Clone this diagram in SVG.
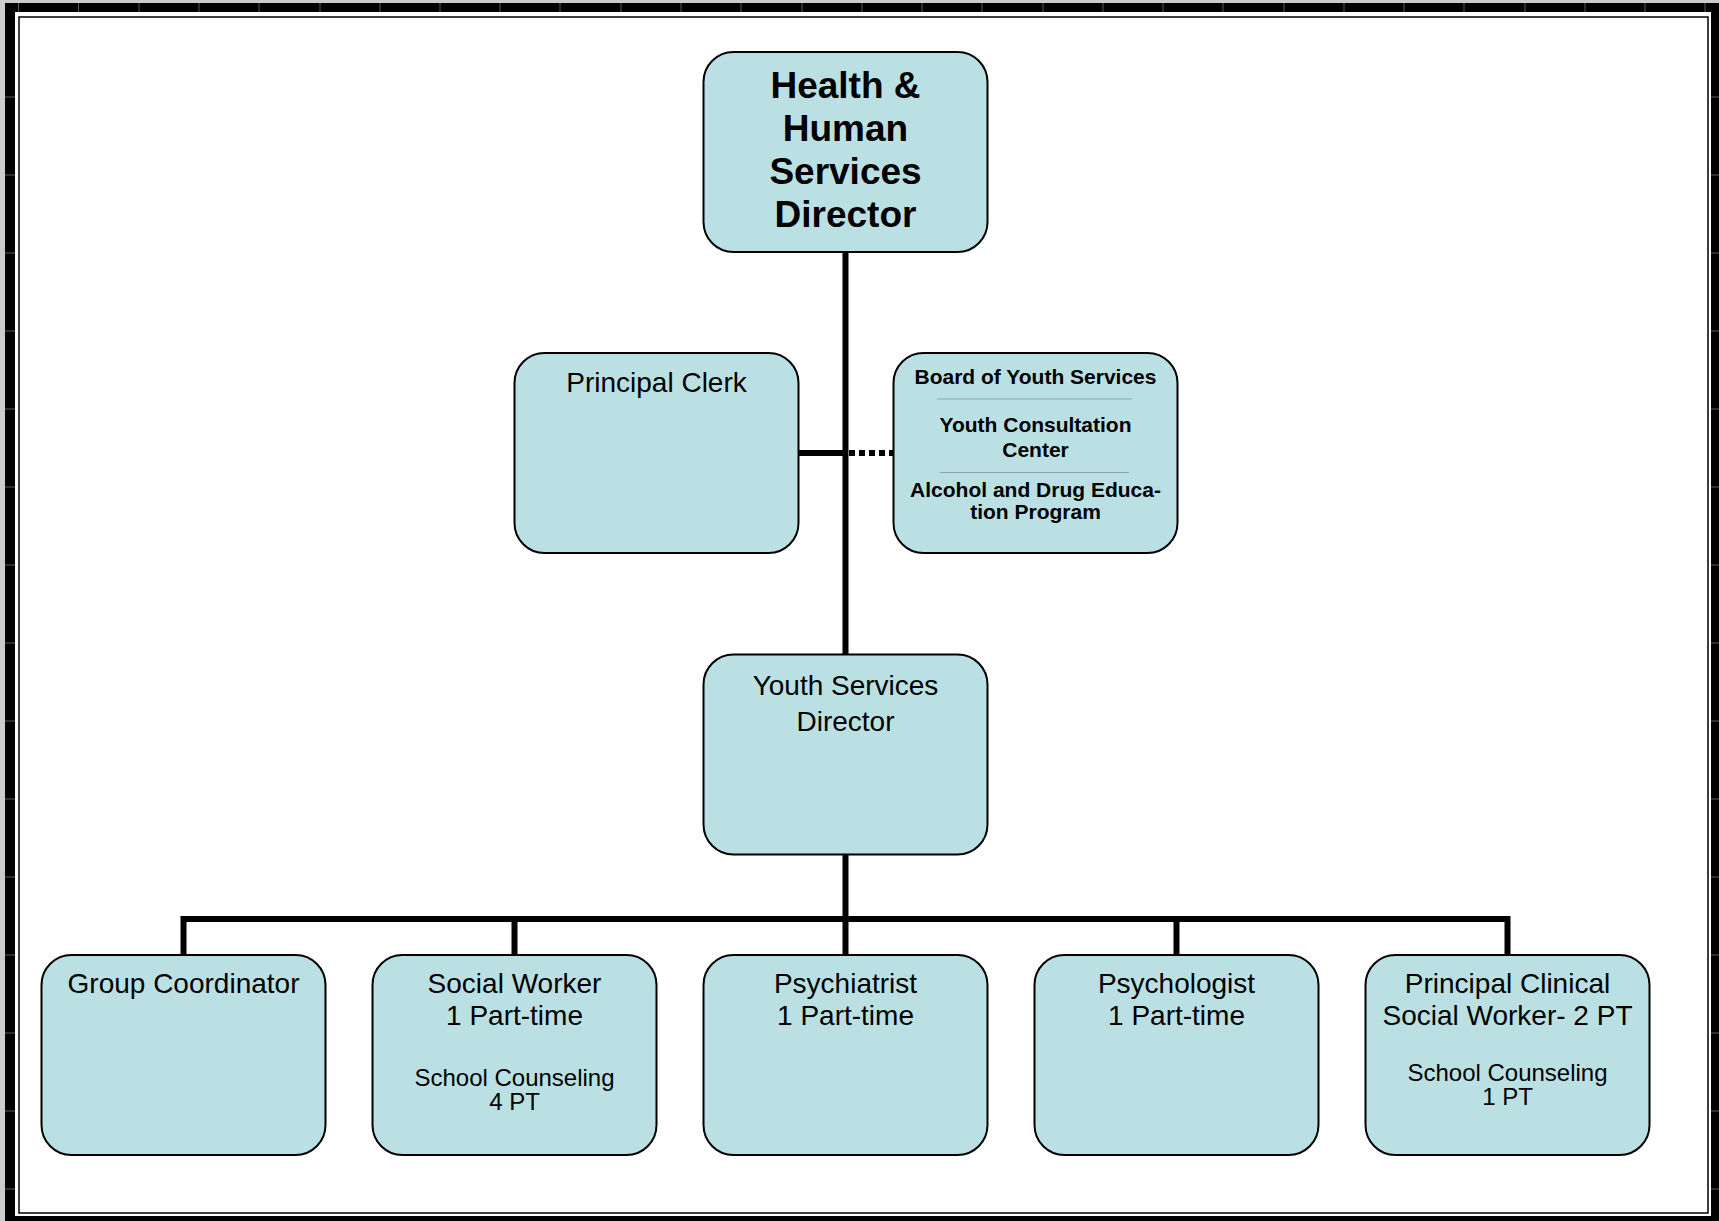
<svg xmlns="http://www.w3.org/2000/svg" width="1719" height="1221" viewBox="0 0 1719 1221">
<style>
.box{fill:#bbe0e3;stroke:#000;stroke-width:2}
.t{font-family:"Liberation Sans",Arial,sans-serif;fill:#000;text-anchor:middle}
.r{font-size:28px}
.s{font-size:24px}
.b{font-weight:bold}
.top{font-size:37px;font-weight:bold}
.bd{font-size:21px;font-weight:bold}
.ln{stroke:#000;stroke-width:6;fill:none}
.dot{stroke:#000;stroke-width:6;fill:none;stroke-dasharray:6 4}
.sep{stroke:#8fa3a6;stroke-width:1.2}
.tick{stroke:#5a5a5a;stroke-width:1}
</style>
<g id="frame">
<rect x="0" y="0" width="1719" height="1221" fill="#cccccc"/>
<rect x="5" y="3" width="1714" height="1218" fill="#000"/>
<rect x="15" y="12" width="1696" height="1204" fill="#fff"/>
<rect x="19" y="17" width="1689" height="1196" fill="none" stroke="#000" stroke-width="1.5"/>
<path class="tick" d="M18.5 3V12M78.5 3V12M139 3V12M199 3V12M259 3V12M320 3V12M380 3V12M440 3V12M500 3V12M560 3V12M621 3V12M681 3V12M741 3V12M802 3V12M862 3V12M922 3V12M982 3V12M1043 3V12M1103 3V12M1163 3V12M1223 3V12M1284 3V12M1344 3V12M1404 3V12M1464 3V12M1525 3V12M1585 3V12M1645 3V12M1705 3V12"/>
<path class="tick" d="M5 97H15M5 175H15M5 253H15M5 331H15M5 409H15M5 487H15M5 565H15M5 643H15M5 721H15M5 799H15M5 877H15M5 955H15M5 1033H15M5 1111H15M5 1189H15"/>
<path class="tick" d="M1711 97H1719M1711 175H1719M1711 253H1719M1711 331H1719M1711 409H1719M1711 487H1719M1711 565H1719M1711 643H1719M1711 721H1719M1711 799H1719M1711 877H1719M1711 955H1719M1711 1033H1719M1711 1111H1719M1711 1189H1719"/>
</g>
<g id="connectors">
<path class="ln" d="M845.5 252V655"/>
<path class="ln" d="M798 453H846"/>
<path class="dot" d="M849 453H893"/>
<path class="ln" d="M845.5 855V919"/>
<path class="ln" d="M183.5 919H1507.5"/>
<path class="ln" d="M183.5 916V956M514.5 916V956M845.5 916V956M1176.5 916V956M1507.5 916V956"/>
</g>
<g id="hhs-director">
<rect class="box" x="703.5" y="52" width="284" height="200" rx="30"/>
<text class="t top" x="845.5" y="98">Health &amp;</text>
<text class="t top" x="845.5" y="141">Human</text>
<text class="t top" x="845.5" y="184">Services</text>
<text class="t top" x="845.5" y="227">Director</text>
</g>
<g id="principal-clerk">
<rect class="box" x="514.5" y="353" width="284" height="200" rx="30"/>
<text class="t r" x="656.5" y="392">Principal Clerk</text>
</g>
<g id="board">
<rect class="box" x="893.5" y="353" width="284" height="200" rx="30"/>
<text class="t bd" x="1035.5" y="383.5">Board of Youth Services</text>
<line class="sep" x1="937" y1="399" x2="1132" y2="399"/>
<text class="t bd" x="1035.5" y="432">Youth Consultation</text>
<text class="t bd" x="1035.5" y="457">Center</text>
<line class="sep" x1="940" y1="472.5" x2="1129" y2="472.5"/>
<text class="t bd" x="1035.5" y="496.5">Alcohol and Drug Educa-</text>
<text class="t bd" x="1035.5" y="518.5">tion Program</text>
</g>
<g id="ys-director">
<rect class="box" x="703.5" y="654.5" width="284" height="200" rx="30"/>
<text class="t r" x="845.5" y="694.5">Youth Services</text>
<text class="t r" x="845.5" y="730.5">Director</text>
</g>
<g id="group-coordinator">
<rect class="box" x="41.5" y="955" width="284" height="200" rx="30"/>
<text class="t r" x="183.5" y="993">Group Coordinator</text>
</g>
<g id="social-worker">
<rect class="box" x="372.5" y="955" width="284" height="200" rx="30"/>
<text class="t r" x="514.5" y="993">Social Worker</text>
<text class="t r" x="514.5" y="1025">1 Part-time</text>
<text class="t s" x="514.5" y="1086">School Counseling</text>
<text class="t s" x="514.5" y="1110">4 PT</text>
</g>
<g id="psychiatrist">
<rect class="box" x="703.5" y="955" width="284" height="200" rx="30"/>
<text class="t r" x="845.5" y="993">Psychiatrist</text>
<text class="t r" x="845.5" y="1025">1 Part-time</text>
</g>
<g id="psychologist">
<rect class="box" x="1034.5" y="955" width="284" height="200" rx="30"/>
<text class="t r" x="1176.5" y="993">Psychologist</text>
<text class="t r" x="1176.5" y="1025">1 Part-time</text>
</g>
<g id="principal-clinical">
<rect class="box" x="1365.5" y="955" width="284" height="200" rx="30"/>
<text class="t r" x="1507.5" y="993">Principal Clinical</text>
<text class="t r" x="1507.5" y="1025">Social Worker- 2 PT</text>
<text class="t s" x="1507.5" y="1081">School Counseling</text>
<text class="t s" x="1507.5" y="1105">1 PT</text>
</g>
</svg>
